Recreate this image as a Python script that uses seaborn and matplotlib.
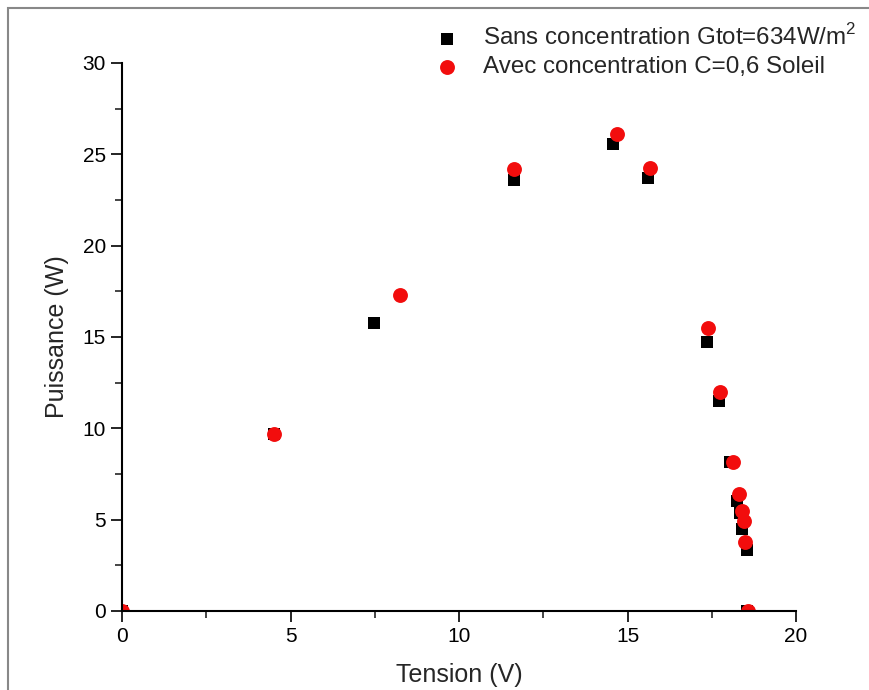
import numpy as np
import pandas as pd
import seaborn as sns
import matplotlib.pyplot as plt
from matplotlib.patches import Rectangle
from matplotlib.ticker import MultipleLocator

#%% data
tension_sans = [0, 4.51, 7.48, 11.63, 14.57, 15.61, 17.36, 17.72, 18.05, 18.24, 18.34, 18.39, 18.54, 18.55]
puissance_sans = [0, 9.7, 15.76, 23.6, 25.56, 23.7, 14.72, 11.49, 8.14, 6.0, 5.36, 4.49, 3.34, 0]

tension_avec = [0, 4.51, 8.25, 11.63, 14.69, 15.67, 17.39, 17.74, 18.13, 18.31, 18.40, 18.46, 18.50, 18.58]
puissance_avec = [0, 9.7, 17.3, 24.2, 26.1, 24.25, 15.49, 12.0, 8.13, 6.4, 5.5, 4.95, 3.8, 0]

label_sans = 'Sans concentration Gtot=634W/m$^2$'
label_avec = 'Avec concentration C=0,6 Soleil'

df_sans = pd.DataFrame({'Tension': tension_sans, 'Puissance': puissance_sans})
df_avec = pd.DataFrame({'Tension': tension_avec, 'Puissance': puissance_avec})

#%% plot
sns.set_style('ticks')
plt.rcParams['font.family'] = ['Liberation Sans', 'DejaVu Sans']
plt.rcParams['mathtext.fontset'] = 'custom'
plt.rcParams['mathtext.rm'] = 'Liberation Sans'

fig = plt.figure(figsize = [8.69, 6.9], dpi = 100)
ax = fig.add_axes([122/869, 1 - 611/690, (796 - 122)/869, (611 - 63)/690])

sns.scatterplot(data = df_sans, x = 'Tension', y = 'Puissance', marker = 's', color = 'black',
                s = 80, linewidth = 0, label = label_sans, ax = ax)
sns.scatterplot(data = df_avec, x = 'Tension', y = 'Puissance', marker = 'o', color = '#f20d0d',
                s = 115, linewidth = 0, label = label_avec, ax = ax)

ax.set_xlim(0, 20)
ax.set_ylim(0, 30)
ax.xaxis.set_major_locator(MultipleLocator(5))
ax.xaxis.set_minor_locator(MultipleLocator(2.5))
ax.yaxis.set_major_locator(MultipleLocator(5))
ax.yaxis.set_minor_locator(MultipleLocator(2.5))
ax.tick_params(which = 'major', direction = 'out', length = 8, width = 1.2, labelsize = 15, colors = 'black')
ax.tick_params(which = 'minor', direction = 'out', length = 5, width = 1.2)
sns.despine(ax = ax)
for side in ['left', 'bottom']:
    ax.spines[side].set_linewidth(1.5)
    ax.spines[side].set_color('black')

ax.set_xlabel('Tension (V)', fontsize = 18, labelpad = 12)
ax.set_ylabel('Puissance (W)', fontsize = 18, labelpad = 10)

handles, labels = ax.get_legend_handles_labels()
ax.get_legend().remove()
fig.legend(handles, labels, loc = 'upper left', bbox_to_anchor = (435/869, 1 - 24/690),
           frameon = False, fontsize = 17.4, borderpad = 0, borderaxespad = 0,
           handlelength = 1.0, handletextpad = 1.0, labelspacing = 0.25)

# grey border round the picture
fig.add_artist(Rectangle((8/869, -0.05), 1.1, 1 - 8/690 + 0.05, transform = fig.transFigure,
                         fill = False, edgecolor = '#888888', linewidth = 1.5))

fig.savefig('out.png', dpi = 100)
